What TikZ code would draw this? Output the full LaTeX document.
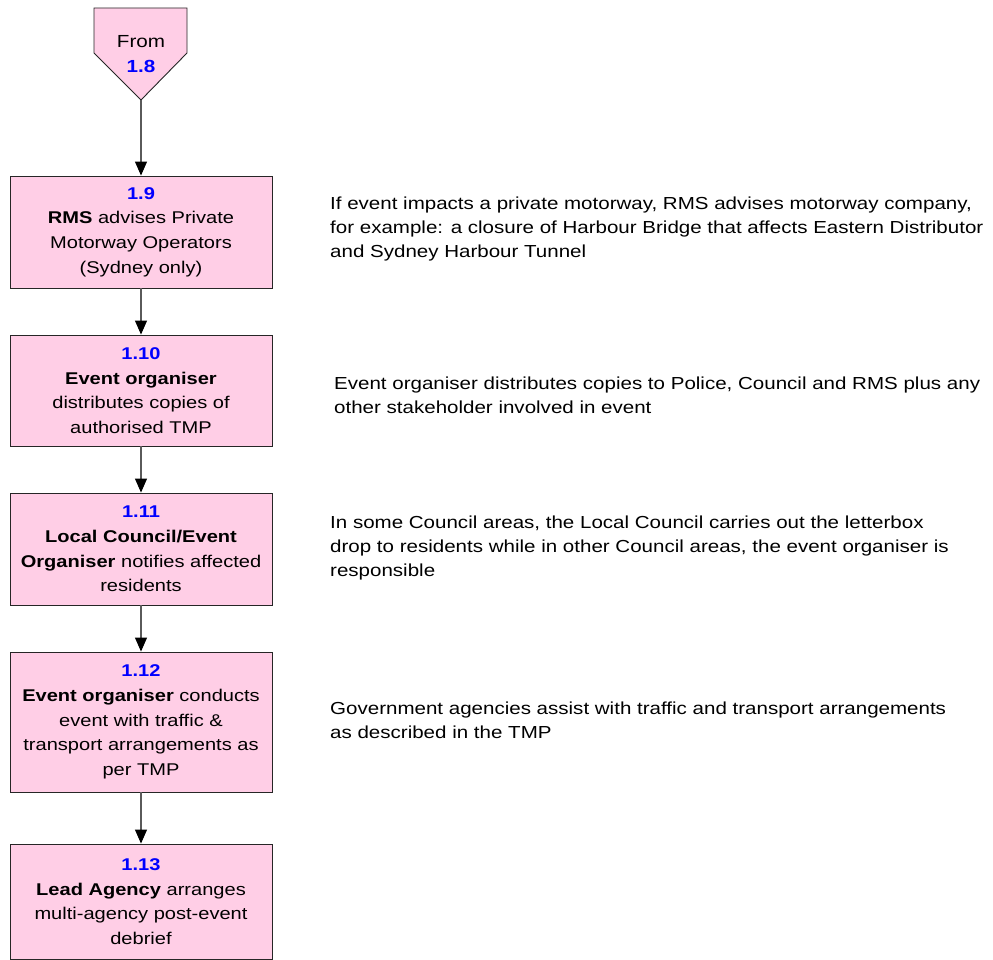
\documentclass[tikz,border=0pt]{standalone}
\usepackage{fontspec}
\setmainfont{Liberation Sans}[FakeStretch=1.18]
\usetikzlibrary{arrows.meta}
\definecolor{boxpink}{RGB}{255,206,230}
\definecolor{numblue}{RGB}{0,0,255}
\definecolor{shaft}{RGB}{90,90,90}
\tikzset{
  stepbox/.style={draw=black!85, line width=0.9pt, fill=boxpink,
    minimum width=262pt, inner sep=0pt, align=center,
    font=\fontsize{17}{24.7}\selectfont},
  note/.style={anchor=west, inner sep=0pt, align=left,
    font=\fontsize{17.4}{24.2}\selectfont},
  flow/.style={draw=shaft, line width=1.1pt,
    -{Triangle[length=14pt,width=12pt,fill=black,color=black]}},
}
\newcommand{\stepno}[1]{{\color{numblue}\bfseries #1}}
\begin{document}
\begin{tikzpicture}[x=1pt,y=-1pt]
\useasboundingbox (0,0) rectangle (993,960);

% off-page connector from step 1.8
\draw[draw=black!85, line width=0.9pt, fill=boxpink]
  (94,8) -- (187,8) -- (187,53) -- (141,100) -- (94,53) -- cycle;
\coordinate (fromtip) at (141,100);
\node[align=center, inner sep=0pt, font=\fontsize{17.5}{24.7}\selectfont] (from) at (141,54)
  {From\\ \stepno{1.8}};

% process steps
\node[stepbox, minimum height=112pt] (s9) at (141,232)
  {\stepno{1.9}\\ \textbf{RMS} advises Private\\ Motorway Operators\\ (Sydney only)};
\node[stepbox, minimum height=111pt] (s10) at (141,390.5)
  {\stepno{1.10}\\ \textbf{Event organiser}\\ distributes copies of\\ authorised TMP};
\node[stepbox, minimum height=112pt] (s11) at (141,549)
  {\stepno{1.11}\\ \textbf{Local Council/Event}\\ \textbf{Organiser} notifies affected\\ residents};
\node[stepbox, minimum height=140pt] (s12) at (141,722)
  {\stepno{1.12}\\ \textbf{Event organiser} conducts\\ event with traffic \&\\ transport arrangements as\\ per TMP};
\node[stepbox, minimum height=115pt] (s13) at (141,901.5)
  {\stepno{1.13}\\ \textbf{Lead Agency} arranges\\ multi-agency post-event\\ debrief};

% explanatory notes
\node[note] (n9) at (330,229)
  {If event impacts a private motorway, RMS advises motorway company,\\
   for example: a closure of Harbour Bridge that affects Eastern Distributor\\
   and Sydney Harbour Tunnel};
\node[note] (n10) at (334,395)
  {Event organiser distributes copies to Police, Council and RMS plus any\\
   other stakeholder involved in event};
\node[note] (n11) at (330,548)
  {In some Council areas, the Local Council carries out the letterbox\\
   drop to residents while in other Council areas, the event organiser is\\
   responsible};
\node[note] (n12) at (330,720)
  {Government agencies assist with traffic and transport arrangements\\
   as described in the TMP};

% flow connectors
\draw[flow] (fromtip) -- (s9.north);
\draw[flow] (s9.south) -- (s10.north);
\draw[flow] (s10.south) -- (s11.north);
\draw[flow] (s11.south) -- (s12.north);
\draw[flow] (s12.south) -- (s13.north);
\end{tikzpicture}
\end{document}
